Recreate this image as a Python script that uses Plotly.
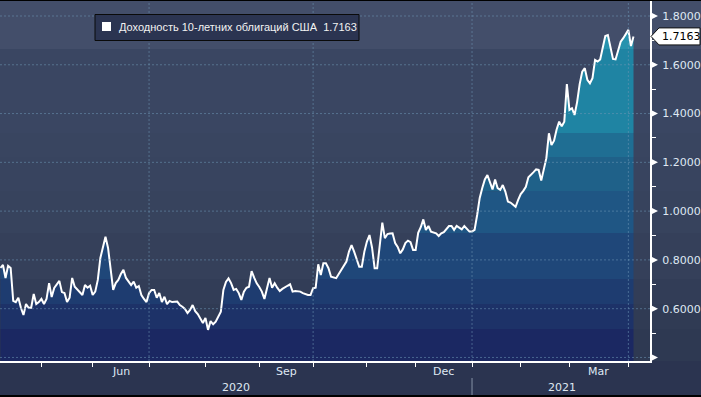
import numpy as np
import plotly.graph_objects as go

# ---------------- data ----------------
dates = [
    "2020-04-08", "2020-04-09", "2020-04-13", "2020-04-14", "2020-04-15", "2020-04-16", "2020-04-17",
    "2020-04-20", "2020-04-21", "2020-04-22", "2020-04-23", "2020-04-24", "2020-04-27", "2020-04-28",
    "2020-04-29", "2020-04-30", "2020-05-01", "2020-05-04", "2020-05-05", "2020-05-06", "2020-05-07",
    "2020-05-08", "2020-05-12", "2020-05-13", "2020-05-14", "2020-05-15", "2020-05-18", "2020-05-19",
    "2020-05-20", "2020-05-22", "2020-05-26", "2020-05-27", "2020-05-28", "2020-05-29", "2020-06-01",
    "2020-06-02", "2020-06-03", "2020-06-04", "2020-06-05", "2020-06-08", "2020-06-09", "2020-06-10",
    "2020-06-11", "2020-06-12", "2020-06-15", "2020-06-16", "2020-06-17", "2020-06-18", "2020-06-19",
    "2020-06-22", "2020-06-23", "2020-06-24", "2020-06-25", "2020-06-26", "2020-06-29", "2020-06-30",
    "2020-07-01", "2020-07-02", "2020-07-06", "2020-07-07", "2020-07-08", "2020-07-09", "2020-07-10",
    "2020-07-13", "2020-07-14", "2020-07-15", "2020-07-17", "2020-07-20", "2020-07-21", "2020-07-22",
    "2020-07-23", "2020-07-24", "2020-07-27", "2020-07-28", "2020-07-29", "2020-07-30", "2020-07-31",
    "2020-08-03", "2020-08-04", "2020-08-05", "2020-08-06", "2020-08-07", "2020-08-10", "2020-08-11",
    "2020-08-12", "2020-08-13", "2020-08-14", "2020-08-17", "2020-08-18", "2020-08-19", "2020-08-20",
    "2020-08-21", "2020-08-24", "2020-08-25", "2020-08-26", "2020-08-27", "2020-08-28", "2020-08-31",
    "2020-09-01", "2020-09-02", "2020-09-03", "2020-09-04", "2020-09-08", "2020-09-09", "2020-09-10",
    "2020-09-11", "2020-09-14", "2020-09-15", "2020-09-16", "2020-09-17", "2020-09-18", "2020-09-21",
    "2020-09-22", "2020-09-23", "2020-09-24", "2020-09-25", "2020-09-28", "2020-09-29", "2020-09-30",
    "2020-10-01", "2020-10-02", "2020-10-05", "2020-10-06", "2020-10-07", "2020-10-08", "2020-10-09",
    "2020-10-13", "2020-10-14", "2020-10-15", "2020-10-16", "2020-10-19", "2020-10-20", "2020-10-21",
    "2020-10-22", "2020-10-23", "2020-10-26", "2020-10-27", "2020-10-28", "2020-10-29", "2020-10-30",
    "2020-11-02", "2020-11-03", "2020-11-04", "2020-11-05", "2020-11-06", "2020-11-09", "2020-11-10",
    "2020-11-12", "2020-11-13", "2020-11-16", "2020-11-17", "2020-11-18", "2020-11-19", "2020-11-20",
    "2020-11-23", "2020-11-24", "2020-11-25", "2020-11-27", "2020-11-30", "2020-12-01", "2020-12-02",
    "2020-12-03", "2020-12-04", "2020-12-07", "2020-12-08", "2020-12-09", "2020-12-10", "2020-12-11",
    "2020-12-14", "2020-12-15", "2020-12-16", "2020-12-17", "2020-12-18", "2020-12-21", "2020-12-22",
    "2020-12-23", "2020-12-24", "2020-12-28", "2020-12-29", "2020-12-30", "2020-12-31", "2021-01-04",
    "2021-01-05", "2021-01-06", "2021-01-07", "2021-01-08", "2021-01-11", "2021-01-12", "2021-01-13",
    "2021-01-14", "2021-01-15", "2021-01-19", "2021-01-20", "2021-01-21", "2021-01-22", "2021-01-25",
    "2021-01-26", "2021-01-27", "2021-01-28", "2021-01-29", "2021-02-01", "2021-02-02", "2021-02-03",
    "2021-02-04", "2021-02-05", "2021-02-08", "2021-02-09", "2021-02-10", "2021-02-11", "2021-02-12",
    "2021-02-16", "2021-02-17", "2021-02-18", "2021-02-19", "2021-02-22", "2021-02-23", "2021-02-24",
    "2021-02-25", "2021-02-26", "2021-03-01", "2021-03-02", "2021-03-03", "2021-03-04", "2021-03-05",
    "2021-03-08", "2021-03-09", "2021-03-10", "2021-03-11", "2021-03-12", "2021-03-15", "2021-03-16",
    "2021-03-17", "2021-03-18", "2021-03-19", "2021-03-22", "2021-03-23", "2021-03-24", "2021-03-25",
    "2021-03-26", "2021-03-29", "2021-03-30", "2021-03-31", "2021-04-01", "2021-04-02", "2021-04-05",
]
yields = [
    0.767, 0.779, 0.726, 0.776, 0.767, 0.632, 0.627,
    0.645, 0.604, 0.574, 0.619, 0.604, 0.604, 0.660,
    0.619, 0.627, 0.640, 0.619, 0.640, 0.705, 0.648,
    0.685, 0.714, 0.668, 0.664, 0.627, 0.645, 0.726,
    0.690, 0.670, 0.656, 0.697, 0.686, 0.694, 0.656,
    0.670, 0.718, 0.808, 0.853, 0.895, 0.849, 0.767,
    0.677, 0.705, 0.718, 0.742, 0.759, 0.726, 0.709,
    0.697, 0.711, 0.686, 0.693, 0.656, 0.640, 0.627,
    0.664, 0.677, 0.677, 0.645, 0.664, 0.627, 0.649,
    0.619, 0.632, 0.627, 0.629, 0.615, 0.608, 0.599,
    0.582, 0.595, 0.615, 0.590, 0.578, 0.558, 0.541,
    0.562, 0.513, 0.549, 0.536, 0.547, 0.571, 0.588,
    0.677, 0.710, 0.724, 0.705, 0.677, 0.681, 0.664,
    0.636, 0.670, 0.686, 0.690, 0.754, 0.727, 0.704,
    0.689, 0.670, 0.640, 0.686, 0.726, 0.686, 0.704,
    0.686, 0.672, 0.681, 0.689, 0.694, 0.700, 0.670,
    0.672, 0.672, 0.670, 0.664, 0.659, 0.656, 0.656,
    0.684, 0.686, 0.782, 0.738, 0.786, 0.786, 0.766,
    0.731, 0.727, 0.725, 0.742, 0.759, 0.772, 0.793,
    0.834, 0.861, 0.834, 0.800, 0.772, 0.772, 0.834,
    0.875, 0.902, 0.850, 0.766, 0.766, 0.868, 0.953,
    0.889, 0.906, 0.908, 0.909, 0.869, 0.853, 0.827,
    0.843, 0.869, 0.879, 0.873, 0.841, 0.841, 0.911,
    0.934, 0.966, 0.923, 0.939, 0.916, 0.912, 0.909,
    0.898, 0.909, 0.914, 0.927, 0.939, 0.939, 0.923,
    0.939, 0.931, 0.925, 0.939, 0.925, 0.916, 0.916,
    0.923, 0.984, 1.054, 1.095, 1.130, 1.148, 1.121,
    1.089, 1.130, 1.094, 1.087, 1.107, 1.080, 1.039,
    1.035, 1.025, 1.018, 1.046, 1.070, 1.083, 1.100,
    1.139, 1.148, 1.160, 1.171, 1.169, 1.125, 1.169,
    1.217, 1.319, 1.271, 1.289, 1.335, 1.367, 1.348,
    1.367, 1.521, 1.415, 1.422, 1.394, 1.447, 1.521,
    1.572, 1.586, 1.538, 1.524, 1.545, 1.620, 1.613,
    1.622, 1.674, 1.718, 1.722, 1.669, 1.624, 1.622,
    1.654, 1.695, 1.709, 1.726, 1.743, 1.677, 1.7163,
]
series_name = "Доходность 10-летних облигаций США"
last_value = yields[-1]

# market holidays removed from the time axis (trading-day axis)
holidays = ["2020-04-10", "2020-05-25", "2020-07-03", "2020-09-07", "2020-10-12",
            "2020-11-11", "2020-11-26", "2020-12-25", "2021-01-01", "2021-01-18", "2021-02-15"]
month_ticks = ["2020-05-01", "2020-06-01", "2020-07-01", "2020-08-03", "2020-09-01", "2020-10-01",
               "2020-11-02", "2020-12-01", "2021-01-04", "2021-02-01", "2021-03-01", "2021-04-01"]
quarter_lines = ["2020-07-01", "2020-10-01", "2021-01-04", "2021-04-01"]
month_labels = ["Jun", "Sep", "Dec", "Mar"]
month_label_pos = ["2020-06-16", "2020-09-16 12:00", "2020-12-16", "2021-03-16 12:00"]
year_labels = ["2020", "2021"]
year_label_pos = ["2020-08-19", "2021-02-24"]
year_sep = "2021-01-04"
ytick_vals = [0.6, 0.8, 1.0, 1.2, 1.4, 1.6, 1.8]
ygrid_vals = [0.4, 0.6, 0.8, 1.0, 1.2, 1.4, 1.6, 1.8]
yminor_vals = [0.4, 0.5, 0.7, 0.9, 1.1, 1.3, 1.5, 1.7]

# ---------------- style ----------------
Y_RANGE = [0.3855, 1.8615]
X_RANGE = ["2020-04-07 20:15", "2021-04-13 10:30"]
band_edges = [0.517, 0.619, 0.722, 0.910, 1.0825, 1.222, 1.320, 1.665]
fill_colors = ["#1b2862", "#1d3268", "#1e3c70", "#1f4779", "#1f5684",
               "#1f6189", "#1f6e93", "#1f84a3", "#2793ae"]
bg_colors = ["#2e3952", "#303b54", "#323d57", "#35405a", "#37435d",
             "#38445f", "#394560", "#3a4662", "#434e6a"]
GRID = "rgba(110,150,180,0.55)"
TXT = "#dfe8f3"
FONT = "DejaVu Sans"

vals = np.array(yields)
fig = go.Figure()

# banded area fill under the line
upper = band_edges + [10.0]
for i, (hi, col) in enumerate(zip(upper, fill_colors)):
    fig.add_trace(go.Scatter(
        x=dates, y=np.minimum(vals, hi), mode="lines", line=dict(width=0),
        fill="tozeroy" if i == 0 else "tonexty", fillcolor=col,
        hoverinfo="skip", showlegend=False))

# the line itself
fig.add_trace(go.Scatter(x=dates, y=yields, mode="lines", name=series_name,
                         line=dict(color="white", width=2), showlegend=False))

shapes = []
# background bands (plot area + right label area)
lows = [Y_RANGE[0]] + band_edges
highs = band_edges + [Y_RANGE[1]]
for lo, hi, col in zip(lows, highs, bg_colors):
    shapes.append(dict(type="rect", xref="paper", yref="y", x0=0, x1=1.1, y0=lo, y1=hi,
                       fillcolor=col, line=dict(width=0), layer="below"))
# dotted grid on top of the fill
for v in ygrid_vals:
    shapes.append(dict(type="line", xref="paper", yref="y", x0=0, x1=1, y0=v, y1=v,
                       line=dict(color=GRID, width=1, dash="2px,2px"), layer="above"))
for d in quarter_lines:
    shapes.append(dict(type="line", xref="x", yref="paper", x0=d, x1=d, y0=0, y1=1,
                       line=dict(color=GRID, width=1, dash="2px,2px"), layer="above"))
# arrow-like major ticks on the right axis
for v in ygrid_vals:
    shapes.append(dict(type="path", xref="paper", yref="y", xsizemode="pixel", ysizemode="pixel",
                       xanchor=1, yanchor=v, path="M 1,-3.5 L 8,0 L 1,3.5 Z",
                       fillcolor="white", line=dict(width=0), layer="above"))
# last-value tag
shapes.append(dict(type="path", xref="paper", yref="y", xsizemode="pixel", ysizemode="pixel",
                   xanchor=1, yanchor=last_value,
                   path="M 1,0 L 9,-8.5 L 50,-8.5 L 50,8.5 L 9,8.5 Z",
                   fillcolor="white", line=dict(color="#111111", width=1), layer="above"))
# legend box and swatch
shapes.append(dict(type="rect", xref="paper", yref="paper", x0=95 / 650, x1=359 / 650,
                   y0=(361 - 14.5) / 360, y1=(361 - 40.5) / 360,
                   fillcolor="#2b3451", line=dict(color="#0a0a0a", width=1), layer="above"))
shapes.append(dict(type="rect", xref="paper", yref="paper", x0=102 / 650, x1=111 / 650,
                   y0=(361 - 22) / 360, y1=(361 - 31) / 360,
                   fillcolor="white", line=dict(width=0), layer="above"))
# year separator under the axis
shapes.append(dict(type="line", xref="x", yref="paper", x0=year_sep, x1=year_sep,
                   y0=(361 - 378) / 360, y1=(361 - 395) / 360,
                   line=dict(color="#8692a6", width=1)))
# thin black frame lines top and bottom
shapes.append(dict(type="rect", xref="paper", yref="paper", x0=-0.01, x1=1.1,
                   y0=1.0, y1=1.01, fillcolor="black", line=dict(width=0)))
shapes.append(dict(type="rect", xref="paper", yref="paper", x0=-0.01, x1=1.1,
                   y0=(361 - 395) / 360, y1=(361 - 400) / 360, fillcolor="black", line=dict(width=0)))

annotations = []
annotations.append(dict(xref="paper", yref="paper", x=117 / 650, y=(361 - 27.5) / 360,
                        xanchor="left", yanchor="middle", showarrow=False,
                        text=f"{series_name}\u00a0\u00a0{last_value:.4f}",
                        font=dict(family="Liberation Sans", size=11, color="#f2f2f2")))
annotations.append(dict(xref="paper", yref="y", x=1, y=last_value, xanchor="left", yanchor="middle",
                        xshift=10, showarrow=False, text=f"{last_value:.4f}",
                        font=dict(family=FONT, size=11, color="black")))
for lab, pos in zip(month_labels, month_label_pos):
    annotations.append(dict(xref="x", yref="paper", x=pos, y=(361 - 372) / 360,
                            xanchor="center", yanchor="middle", showarrow=False, text=lab,
                            font=dict(family=FONT, size=11, color=TXT)))
for lab, pos in zip(year_labels, year_label_pos):
    annotations.append(dict(xref="x", yref="paper", x=pos, y=(361 - 387) / 360,
                            xanchor="center", yanchor="middle", showarrow=False, text=lab,
                            font=dict(family=FONT, size=11, color=TXT)))

fig.update_layout(
    width=701, height=397,
    margin=dict(l=0, r=51, t=1, b=36),
    paper_bgcolor="#2b3450", plot_bgcolor="#37435d",
    shapes=shapes, annotations=annotations, showlegend=False,
    xaxis=dict(
        type="date", range=X_RANGE,
        rangebreaks=[dict(bounds=["sat", "mon"]), dict(values=holidays)],
        tickmode="array", tickvals=month_ticks, ticktext=[""] * len(month_ticks),
        ticks="outside", ticklen=4, tickwidth=1, tickcolor="white",
        showline=True, linecolor="white", linewidth=2,
        showgrid=False, zeroline=False, fixedrange=True),
    yaxis=dict(
        side="right", range=Y_RANGE,
        tickmode="array", tickvals=ytick_vals, tickformat=".4f",
        ticks="outside", ticklen=8, tickcolor="rgba(0,0,0,0)",
        minor=dict(tickmode="array", tickvals=yminor_vals, ticks="outside", ticklen=4,
                   tickcolor="white", tickwidth=1, showgrid=False),
        tickfont=dict(family=FONT, size=11, color=TXT),
        showline=True, linecolor="white", linewidth=2,
        showgrid=False, zeroline=False, fixedrange=True),
)

fig.write_html(
    "out.html",
    config={"displayModeBar": False},
    post_script="document.body.style.margin='0';document.body.style.overflow='hidden';",
)
